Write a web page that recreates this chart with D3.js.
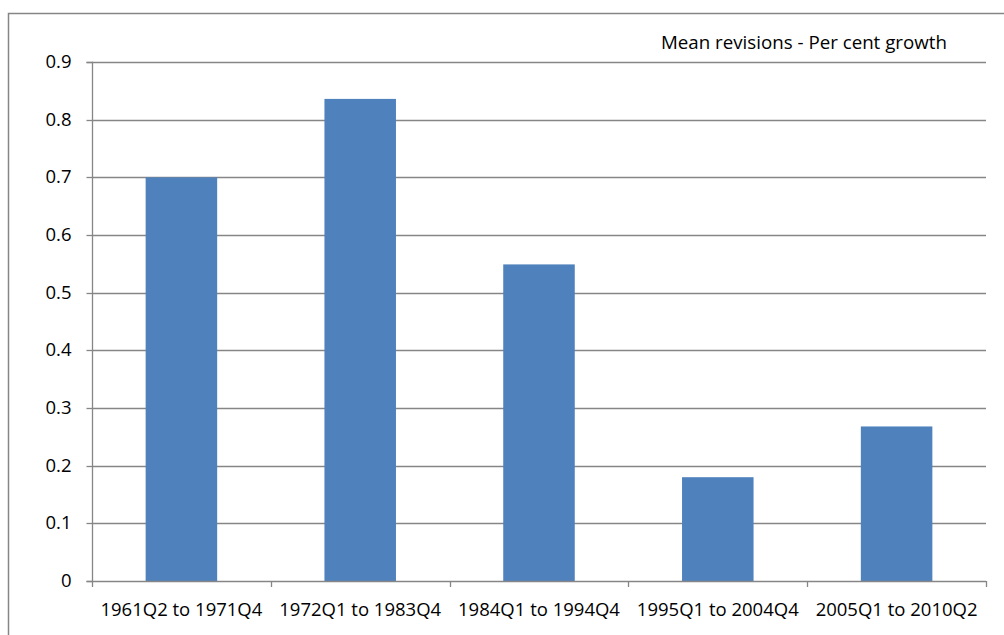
<!DOCTYPE html>
<html><head><meta charset="utf-8">
<script src="https://cdn.jsdelivr.net/npm/d3@7/dist/d3.min.js"></script>
<style>body{margin:0;background:#fff}svg{display:block}text{font-family:"Open Sans",sans-serif;fill:#000}</style>
</head><body><svg id="c" width="1004" height="635"></svg>
<script>
const categories = ["1961Q2 to 1971Q4","1972Q1 to 1983Q4","1984Q1 to 1994Q4","1995Q1 to 2004Q4","2005Q1 to 2010Q2"];
const values = [0.70, 0.836, 0.549, 0.180, 0.268];
const yTicks = [0,0.1,0.2,0.3,0.4,0.5,0.6,0.7,0.8,0.9];
const yTickLabels = ["0","0.1","0.2","0.3","0.4","0.5","0.6","0.7","0.8","0.9"];
const title = "Mean revisions - Per cent growth";

const svg = d3.select("#c");
const gray = "#868686";
const L = 92, R = 986, T = 62, B = 581;
const x = d3.scaleBand().domain(categories).range([L, R]).paddingInner(0.6).paddingOuter(0.3);
const y = d3.scaleLinear().domain([0, 0.9]).range([B, T]);

// outer frame
svg.append("path").attr("d", "M8.5,700V13.5H1010").attr("fill","none").attr("stroke",gray).attr("stroke-width",1.5);

// gridlines
svg.append("g").selectAll("line").data(yTicks.slice(1)).join("line")
  .attr("x1", L).attr("x2", R).attr("y1", d => Math.round(y(d))+0.5).attr("y2", d => Math.round(y(d))+0.5)
  .attr("stroke", gray).attr("stroke-width", 1.3);

// bars
svg.append("g").selectAll("rect").data(values).join("rect")
  .attr("x", (d,i) => x(categories[i])).attr("width", x.bandwidth())
  .attr("y", d => y(d)).attr("height", d => B - y(d))
  .attr("fill", "#4F81BD");

// y axis
const yAxis = d3.axisLeft(y).tickValues(yTicks).tickFormat((d,i) => yTickLabels[i]).tickSize(6).tickPadding(15);
const gy = svg.append("g").attr("transform", `translate(${L+0.5},0)`).call(yAxis);
gy.select(".domain").attr("stroke", gray).attr("stroke-width",1.3).attr("d", `M-6,${T+0.5}H0V${B+0.5}H-6`);
gy.selectAll(".tick line").attr("stroke", gray).attr("stroke-width",1.3);
gy.selectAll(".tick").attr("transform", d => `translate(0,${Math.round(y(d))+0.5})`);
gy.selectAll("text").attr("font-family","Open Sans").attr("font-size","18.5px").attr("fill","#000");

// x axis with boundary ticks
const step = (R - L) / categories.length;
const bounds = d3.range(categories.length + 1).map(i => L + i * step);
svg.append("line").attr("x1", L).attr("x2", R).attr("y1", B+0.5).attr("y2", B+0.5).attr("stroke", gray).attr("stroke-width",1.3);
svg.append("g").selectAll("line").data(bounds).join("line")
  .attr("x1", d => Math.round(d)+0.5).attr("x2", d => Math.round(d)+0.5).attr("y1", B).attr("y2", B+6)
  .attr("stroke", gray).attr("stroke-width",1.3);
svg.append("g").selectAll("text").data(categories).join("text")
  .attr("x", d => x(d) + x.bandwidth()/2).attr("y", 616).attr("text-anchor","middle")
  .attr("font-size","18.5px").text(d => d);

// title
const t = svg.append("text").attr("x", 661).attr("y", 49).attr("font-size","17px").text(title);
const w = t.node().getComputedTextLength();
t.attr("font-size", (17 * 286 / w).toFixed(2) + "px");
</script></body></html>
